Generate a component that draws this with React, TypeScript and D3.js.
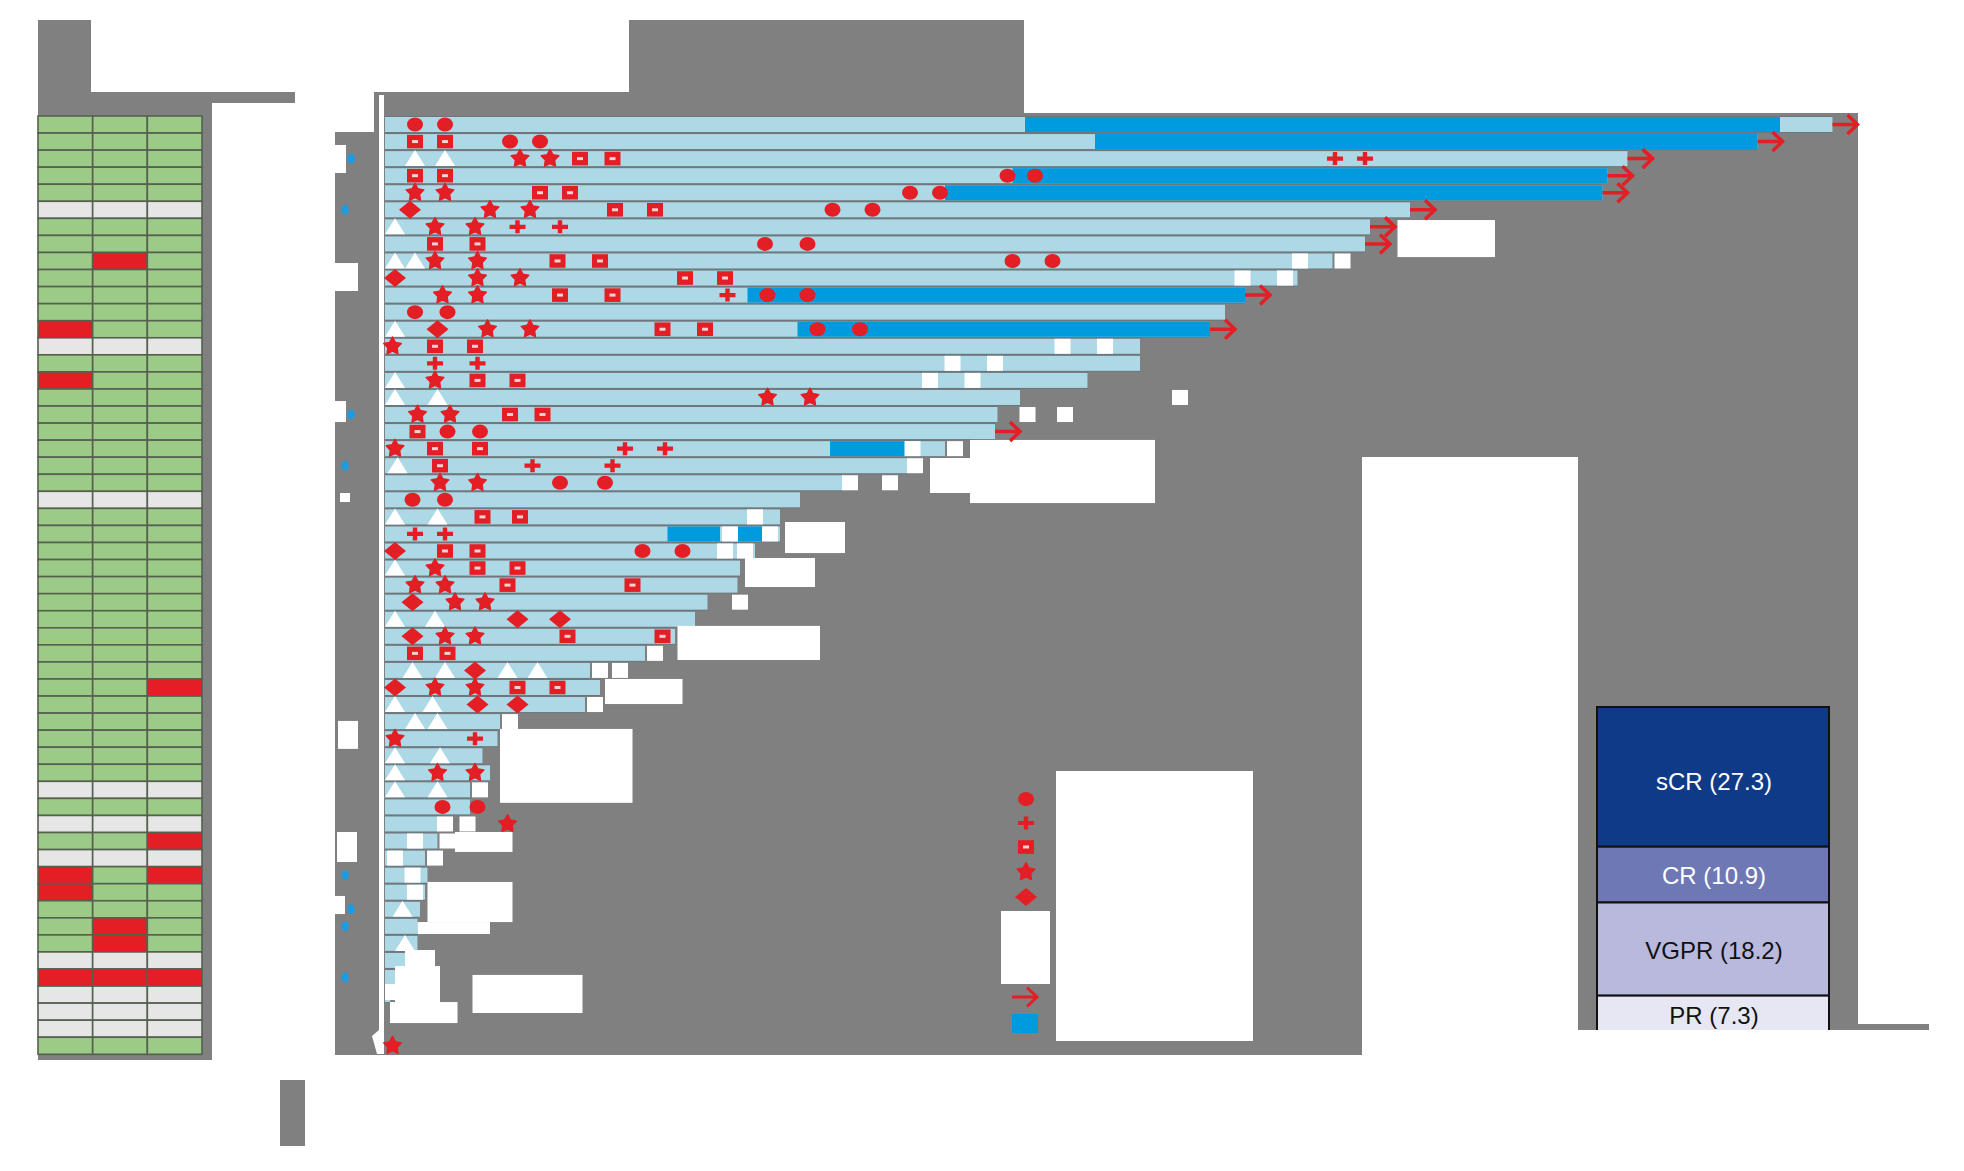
import React from 'react';
import * as d3 from 'd3';

// ================= DATA =================
// Baseline heatmap, three columns, one entry per patient (G = present/green, R = red, N = not available)
const heatCol1 = [
  'G','G','G','G','G',
  'N','G','G','G','G',
  'G','G','R','N','G',
  'R','G','G','G','G',
  'G','G','N','G','G',
  'G','G','G','G','G',
  'G','G','G','G','G',
  'G','G','G','G','N',
  'G','N','G','N','R',
  'R','G','G','G','N',
  'R','N','N','N','G',
];
const heatCol2 = [
  'G','G','G','G','G',
  'N','G','G','R','G',
  'G','G','G','N','G',
  'G','G','G','G','G',
  'G','G','N','G','G',
  'G','G','G','G','G',
  'G','G','G','G','G',
  'G','G','G','G','N',
  'G','N','G','N','G',
  'G','G','R','R','N',
  'R','N','N','N','G',
];
const heatCol3 = [
  'G','G','G','G','G',
  'N','G','G','G','G',
  'G','G','G','N','G',
  'G','G','G','G','G',
  'G','G','N','G','G',
  'G','G','G','G','G',
  'G','G','G','R','G',
  'G','G','G','G','N',
  'G','N','R','N','R',
  'G','G','G','G','N',
  'R','N','N','N','G',
];

// Swimmer bars: time on study (months) per patient, top to bottom
const durations = [
  57.9, 54.9, 49.7, 48.9, 48.7, 41.0, 39.4, 39.2, 37.9, 36.5,
  34.4, 33.6, 33.0, 30.2, 30.2, 28.1, 25.4, 24.5, 24.4, 22.4,
  20.9, 18.3, 16.6, 15.8, 15.8, 14.8, 14.2, 14.1, 12.9, 12.4,
  11.6, 10.4, 8.2, 8.6, 8.0, 4.6, 4.5, 3.9, 4.2, 3.4,
  3.4, 2.1, 2.1, 1.6, 1.7, 1.6, 1.4, 1.3, 1.3, 0.8,
  0.4, 0.2, 0, 0, 0,
];
const ongoingRows = [1, 2, 3, 4, 5, 6, 7, 8, 11, 13, 19];

// Dark-blue treatment periods
const treatRow = [1, 2, 4, 5, 11, 13, 20, 25, 25];
const treatStart = [25.6, 28.4, 25.1, 22.4, 14.5, 16.5, 17.8, 11.3, 14.1];
const treatEnd = [55.8, 54.9, 48.9, 48.7, 34.4, 33.0, 20.8, 13.4, 15.1];

// Events: [patient row, month]
const circleEvents: [number, number][] = [
  [1, 1.2], [1, 2.4], [2, 5.0], [2, 6.2], [4, 24.9], [4, 26.0], [5, 21.0], [5, 22.2],
  [6, 17.9], [6, 19.5], [8, 15.2], [8, 16.9], [9, 25.1], [9, 26.7], [11, 15.3], [11, 16.9],
  [12, 1.2], [12, 2.5], [13, 17.3], [13, 19.0], [19, 2.5], [19, 3.8], [22, 7.0], [22, 8.8],
  [23, 1.1], [23, 2.4], [26, 10.3], [26, 11.9], [41, 2.3], [41, 3.7],
];
const crossEvents: [number, number][] = [
  [3, 38.0], [3, 39.2], [7, 5.3], [7, 7.0], [11, 13.7], [15, 2.0], [15, 3.7],
  [20, 9.6], [20, 11.2], [21, 5.9], [21, 9.1], [25, 1.2], [25, 2.4], [37, 3.6],
];
const squareEvents: [number, number][] = [
  [2, 1.2], [2, 2.4], [3, 7.8], [3, 9.1], [4, 1.2], [4, 2.4], [5, 6.2], [5, 7.4],
  [6, 9.2], [6, 10.8], [8, 2.0], [8, 3.7], [9, 6.9], [9, 8.6], [10, 12.0], [10, 13.6],
  [11, 7.0], [11, 9.1], [13, 11.1], [13, 12.8], [14, 2.0], [14, 3.6], [16, 3.7], [16, 5.3],
  [18, 5.0], [18, 6.3], [19, 1.3], [20, 2.0], [20, 3.8], [21, 2.2], [24, 3.9], [24, 5.4],
  [26, 2.4], [26, 3.7], [27, 3.7], [27, 5.3], [28, 4.9], [28, 9.9], [31, 7.3], [31, 11.1],
  [32, 1.2], [32, 2.5], [34, 5.3], [34, 6.9],
];
const starEvents: [number, number][] = [
  [3, 5.4], [3, 6.6], [5, 1.2], [5, 2.4], [6, 4.2], [6, 5.8], [7, 2.0], [7, 3.6],
  [9, 2.0], [9, 3.7], [10, 3.7], [10, 5.4], [11, 2.3], [11, 3.7], [13, 4.1], [13, 5.8],
  [14, 0.3], [16, 2.0], [17, 15.3], [17, 17.0], [18, 1.3], [18, 2.6], [20, 0.4],
  [22, 2.2], [22, 3.7], [27, 2.0], [28, 1.2], [28, 2.4], [29, 2.8], [29, 4.0],
  [31, 2.4], [31, 3.6], [34, 2.0], [34, 3.6], [37, 0.4], [39, 2.1], [39, 3.6],
  [42, 4.9], [55, 0.3],
];
const diamondEvents: [number, number][] = [
  [6, 1.0], [10, 0.4], [13, 2.1], [26, 0.4], [29, 1.1], [30, 5.3], [30, 7.0],
  [31, 1.1], [33, 3.6], [34, 0.4], [35, 3.7], [35, 5.3],
];
const triangleEvents: [number, number][] = [
  [3, 1.2], [3, 2.4], [7, 0.4], [9, 0.4], [9, 1.2], [13, 0.4], [16, 0.4],
  [17, 0.4], [17, 2.1], [21, 0.5], [24, 0.4], [24, 2.1], [27, 0.4], [30, 0.4], [30, 2.0],
  [33, 1.1], [33, 2.4], [33, 4.9], [33, 6.1], [35, 0.4], [35, 1.9], [36, 1.2], [36, 2.1],
  [38, 0.4], [38, 2.2], [39, 0.4], [40, 0.4], [40, 2.1], [47, 0.7], [49, 0.8],
];
const blankEvents: [number, number][] = [
  [9, 36.6], [9, 38.3], [10, 34.3], [10, 36.0], [14, 27.1], [14, 28.8], [15, 22.7], [15, 24.4],
  [16, 21.8], [16, 23.5], [17, 31.8], [18, 25.7], [18, 27.2], [20, 21.1], [20, 22.8], [21, 21.2],
  [22, 18.6], [22, 20.2], [24, 14.8], [25, 13.8], [25, 15.4], [26, 13.6], [26, 14.4], [29, 14.2],
  [32, 10.8], [33, 8.6], [33, 9.4], [35, 8.4], [36, 5.0], [40, 3.8], [42, 2.4], [42, 3.3],
  [43, 1.2], [43, 2.5], [44, 0.4], [44, 2.0], [45, 1.1], [46, 1.2],
];
// Redacted annotation boxes: [month from, month to, row-position from, row-position to]
const noteBoxes: [number, number, number, number][] = [
  [40.5, 44.4, 6.04, 8.21], [23.4, 30.8, 18.93, 22.63], [21.8, 23.4, 19.99, 22.04],
  [16.0, 18.4, 23.74, 25.56], [14.4, 17.2, 25.85, 27.55], [11.7, 17.4, 29.83, 31.83],
  [8.8, 11.9, 32.94, 34.41], [4.6, 9.9, 35.87, 40.2], [2.8, 5.1, 41.91, 43.08],
  [1.7, 5.1, 44.84, 47.19], [1.3, 4.2, 47.19, 47.89], [0.8, 2.0, 48.83, 49.83],
  [0.4, 2.2, 49.77, 52.34], [3.5, 7.9, 50.29, 52.52], [0, 0.4, 50.82, 51.76],
  [0.2, 2.9, 51.88, 53.11],
];
// Blue flags beside the patient axis
const flagRows = [3, 6, 18, 21, 45, 47, 48, 51];

// Best response (%)
const responseCats = ['sCR', 'CR', 'VGPR', 'PR'];
const responsePct = [27.3, 10.9, 18.2, 7.3];

// ================= STYLE / LAYOUT =================
const GRAY = '#808080';
const SEP = '#6d777d';
const LIGHT = '#ADD8E6';
const DARK = '#009ADF';
const RED = '#E31E24';
const heatFill: Record<string, string> = { G: '#9BCB86', R: '#E31E24', N: '#E6E6E6' };
const respFill = ['#0F3A87', '#6E78B4', '#B9B9DD', '#E6E7F3'];
const respText = ['#ffffff', '#ffffff', '#111111', '#111111'];
const flagInset = [6, 0, 6, 0, 0, 6, 0, 0];
const axisMasks = [
  [335, 11, 1.64, 3.28], [335, 23, 8.56, 10.2], [335, 11, 16.65, 17.88], [340, 10, 22.04, 22.57],
  [338, 20, 35.4, 37.04], [337, 20, 41.91, 43.67], [335, 10, 45.66, 46.72],
];

function starPath(R: number, r: number) {
  let p = '';
  for (let i = 0; i < 10; i++) {
    const a = -Math.PI / 2 + (i * Math.PI) / 5;
    const rad = i % 2 === 0 ? R : r;
    p += (i === 0 ? 'M' : 'L') + (rad * Math.cos(a)).toFixed(2) + ',' + (rad * Math.sin(a)).toFixed(2);
  }
  return p + 'Z';
}
const STAR = starPath(9.3, 4.9);
const CROSS = 'M-2.2,-6.5H2.2V-2.1H8V2.1H2.2V6.5H-2.2V2.1H-8V-2.1H-2.2Z';
const DIAMOND = 'M0,-9L11,0L0,9L-11,0Z';
const TRI = 'M0,-8.5L10,7.5L-10,7.5Z';
const ARROW = 'M0,0H25M15,-9.5L25,0L15,9.5';

function Marker({ kind, cx, cy }: { kind: string; cx: number; cy: number }) {
  const t = `translate(${cx},${cy})`;
  if (kind === 'circle') return <ellipse cx={cx} cy={cy} rx={8} ry={7} fill={RED} />;
  if (kind === 'cross') return <path d={CROSS} transform={t} fill={RED} />;
  if (kind === 'square')
    return (
      <g transform={t}>
        <rect x={-8} y={-6.8} width={16} height={13.6} fill={RED} />
        <rect x={-3} y={-1.5} width={6} height={3} fill="#F2D2D2" />
      </g>
    );
  if (kind === 'star')
    return <path d={STAR} transform={t} fill={RED} stroke={RED} strokeWidth={1.4} strokeLinejoin="round" />;
  if (kind === 'diamond') return <path d={DIAMOND} transform={t} fill={RED} />;
  if (kind === 'triangle') return <path d={TRI} transform={t} fill="#ffffff" />;
  return null;
}

export default function App() {
  const x = d3.scaleLinear().domain([0, 60]).range([385, 1885]);
  const y = d3.scaleLinear().domain([0, 55]).range([117, 1055.3]);
  const rowH = y(1) - y(0);
  const barH = 15;
  const mid = (r: number) => y(r - 1) + barH / 2;

  const heatCols = [heatCol1, heatCol2, heatCol3];
  const hx = d3.scaleBand<number>().domain([0, 1, 2]).range([38, 202]);

  const ry = d3.scaleLinear().domain([0, d3.sum(responsePct)]).range([707, 1033]);
  const cum = responsePct.map((_, i) => d3.sum(responsePct.slice(0, i)));

  const events: [string, [number, number][]][] = [
    ['triangle', triangleEvents],
    ['circle', circleEvents],
    ['cross', crossEvents],
    ['square', squareEvents],
    ['star', starEvents],
    ['diamond', diamondEvents],
  ];

  const mainGray =
    'M335,132L374,132L374,92L629,92L629,20L1024,20L1024,113L1858,113L1858,1030L1578,1030L1578,457L1362,457L1362,1055L335,1055Z';

  return (
    <svg
      width={1964}
      height={1171}
      style={{ position: 'absolute', left: 0, top: 0, display: 'block', background: '#fff' }}
      fontFamily="'Liberation Sans', Arial, sans-serif"
    >
      {/* ---------- left heatmap panel ---------- */}
      <rect x={38} y={20} width={53} height={72} fill={GRAY} />
      <rect x={38} y={92} width={257} height={11} fill={GRAY} />
      <rect x={38} y={103} width={174} height={957} fill={GRAY} />
      <rect x={280} y={1080} width={25} height={66} fill={GRAY} />
      {heatCols.map((col, ci) =>
        col.map((v, ri) => (
          <rect
            key={`h${ci}-${ri}`}
            x={hx(ci)}
            y={y(ri) - 1}
            width={hx.bandwidth()}
            height={rowH}
            fill={heatFill[v]}
            stroke="#55604f"
            strokeWidth={1.6}
          />
        ))
      )}

      {/* ---------- swimmer panel background ---------- */}
      <path d={mainGray} fill={GRAY} />
      <rect x={1851} y={1024} width={78} height={6} fill={GRAY} />

      {/* redacted axis labels + flags */}
      {axisMasks.map((m, i) => (
        <rect key={`am${i}`} x={m[0]} y={y(m[2])} width={m[1]} height={y(m[3]) - y(m[2])} fill="#fff" />
      ))}
      {flagRows.map((r, i) => (
        <ellipse key={`f${i}`} cx={345 + flagInset[i]} cy={mid(r)} rx={3.8} ry={5} fill="#1E9BE0" />
      ))}

      {/* bar separators */}
      {durations.map((d, i) =>
        d > 0 ? (
          <rect key={`s${i}`} x={x(0)} y={y(i) - 1} width={x(d) - x(0)} height={rowH} fill={SEP} />
        ) : null
      )}
      {/* light bars */}
      {durations.map((d, i) =>
        d > 0 ? <rect key={`b${i}`} x={x(0)} y={y(i)} width={x(d) - x(0)} height={barH} fill={LIGHT} /> : null
      )}
      {/* treatment periods */}
      {treatRow.map((r, i) => (
        <rect
          key={`t${i}`}
          x={x(treatStart[i])}
          y={y(r - 1)}
          width={x(treatEnd[i]) - x(treatStart[i])}
          height={barH}
          fill={DARK}
        />
      ))}
      {/* blank (white) squares */}
      {blankEvents.map(([r, t], i) => (
        <rect key={`w${i}`} x={x(t) - 8} y={y(r - 1)} width={16} height={barH} fill="#fff" />
      ))}
      {/* redacted note boxes */}
      {noteBoxes.map(([t0, t1, r0, r1], i) => (
        <rect key={`nb${i}`} x={x(t0)} y={y(r0)} width={x(t1) - x(t0)} height={y(r1) - y(r0)} fill="#fff" />
      ))}
      {/* white y axis */}
      <rect x={379} y={95} width={5} height={950} fill="#fff" />
      <path d="M379,1030L372,1036L377,1054L384,1054L384,1030Z" fill="#fff" />

      {/* ongoing arrows */}
      {ongoingRows.map((r) => (
        <path
          key={`a${r}`}
          d={ARROW}
          transform={`translate(${x(durations[r - 1])},${mid(r)})`}
          fill="none"
          stroke={RED}
          strokeWidth={3.5}
        />
      ))}
      {/* events */}
      {events.map(([kind, list]) =>
        list.map(([r, t], i) => <Marker key={`${kind}${i}`} kind={kind} cx={x(t)} cy={mid(r)} />)
      )}

      {/* ---------- symbol legend ---------- */}
      <rect x={1056} y={771} width={197} height={270} fill="#fff" />
      <Marker kind="circle" cx={1026} cy={799} />
      <Marker kind="cross" cx={1026} cy={823} />
      <Marker kind="square" cx={1026} cy={847} />
      <Marker kind="star" cx={1026} cy={872} />
      <Marker kind="diamond" cx={1026} cy={897} />
      <rect x={1001} y={911} width={49} height={73} fill="#fff" />
      <path d={ARROW} transform="translate(1012,997)" fill="none" stroke={RED} strokeWidth={3} />
      <rect x={1012} y={1014} width={26} height={19} fill={DARK} />

      {/* ---------- best response stacked bar ---------- */}
      <defs>
        <clipPath id="respClip">
          <rect x={1580} y={690} width={270} height={340} />
        </clipPath>
      </defs>
      <g clipPath="url(#respClip)">
        {responseCats.map((c, i) => (
          <g key={c}>
            <rect
              x={1597}
              y={ry(cum[i])}
              width={232}
              height={ry(cum[i] + responsePct[i]) - ry(cum[i])}
              fill={respFill[i]}
              stroke="#111"
              strokeWidth={2}
            />
            <text
              x={1714}
              y={(ry(cum[i]) + ry(cum[i] + responsePct[i])) / 2 + (i === 0 ? 5 : 1)}
              textAnchor="middle"
              dominantBaseline="central"
              fontSize={24}
              fill={respText[i]}
            >
              {`${c} (${responsePct[i]})`}
            </text>
          </g>
        ))}
      </g>
    </svg>
  );
}
